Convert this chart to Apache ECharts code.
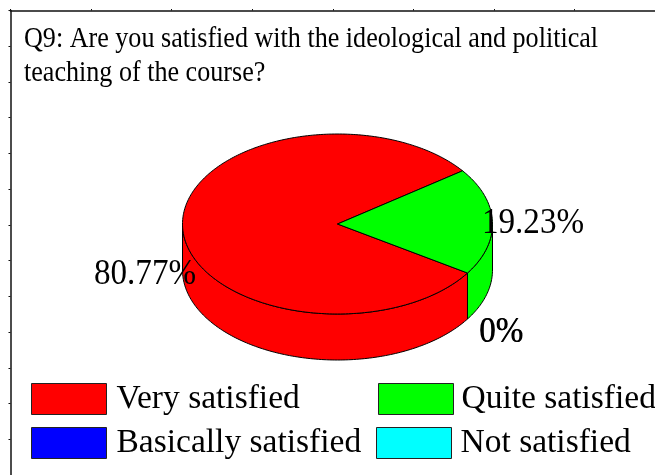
<!DOCTYPE html>
<html><head><meta charset="utf-8">
<style>html,body{margin:0;padding:0;background:#fff}#c{width:655px;height:475px}</style>
<script src="https://cdn.jsdelivr.net/npm/echarts@6/dist/echarts.min.js"></script>
</head><body><div id="c"></div>
<script>
const titleText = 'Q9: Are you satisfied with the ideological and political\nteaching of the course?';
const categories = ['Very satisfied', 'Quite satisfied', 'Basically satisfied', 'Not satisfied'];
const percentages = [80.77, 19.23, 0, 0];
const colors = ['#ff0000', '#00ff00', '#0000ff', '#00ffff'];

// layout
const FONT = '"Liberation Serif","Times New Roman",serif';
const PIE = {cx: 337.5, cy: 224, rx: 155, ry: 90, depth: 46, startDeg: 33};
const LABEL_AT = [[145, 274.5], [533, 224], [501, 333], [501.6, 333]];
const LEGEND_AT = [[31, 382], [378, 382], [31, 426], [376, 426]];
const LEGEND_GAP = [5, 3, 5, 4];

const total = percentages.reduce((a, b) => a + b, 0);
function pt(deg, dy) {
  const r = deg * Math.PI / 180;
  return [PIE.cx + PIE.rx * Math.cos(r), PIE.cy + PIE.ry * Math.sin(r) + (dy || 0)];
}
function arc(a, b, dy) {
  const out = [], n = Math.max(2, Math.ceil(Math.abs(b - a)));
  for (let i = 0; i <= n; i++) out.push(pt(a + (b - a) * i / n, dy));
  return out;
}
const stroke = {stroke: '#000', lineWidth: 1};
function renderSlice(idx) {
  return function (params, api) {
    const v = api.value(0);
    const before = percentages.slice(0, idx).reduce((a, b) => a + b, 0);
    const a0 = PIE.startDeg + before / total * 360;
    const a1 = a0 + v / total * 360;
    const children = [];
    [[0, 180], [360, 540]].forEach(([lo, hi]) => {
      const s = Math.max(a0, lo), e = Math.min(a1, hi);
      if (e > s) {
        children.push({type: 'polygon', shape: {points: arc(s, e, 0).concat(arc(e, s, PIE.depth))},
          style: Object.assign({fill: colors[idx]}, stroke)});
      }
    });
    if (v > 0) {
      children.push({type: 'polygon', shape: {points: [[PIE.cx, PIE.cy]].concat(arc(a0, a1, 0))},
        style: Object.assign({fill: colors[idx]}, stroke)});
    }
    children.push({type: 'text', x: LABEL_AT[idx][0], y: LABEL_AT[idx][1], scaleX: 0.92, originX: 0, originY: 0,
      style: {text: v + '%', font: '36px ' + FONT, fill: '#000', align: 'center', verticalAlign: 'middle'}});
    return {type: 'group', children};
  };
}

const option = {
  animation: false,
  backgroundColor: '#fff',
  graphic: [{
    type: 'text', left: 24, top: 22, scaleX: 0.9,
    style: {text: titleText, font: '29px ' + FONT, fill: '#000', lineHeight: 34.5}
  }],
  grid: {left: 10.5, top: 10.5, right: -5, bottom: -5},
  xAxis: {type: 'value', position: 'top', min: 0, max: 656, interval: 82, splitLine: {show: false},
    axisLabel: {show: false}, axisLine: {show: true, onZero: false, lineStyle: {color: '#111', width: 1.5}},
    axisTick: {show: true, length: 1.5, lineStyle: {color: '#111'}}},
  yAxis: {type: 'value', inverse: true, min: 0, max: 474.5, interval: 36.5, splitLine: {show: false},
    axisLabel: {show: false}, axisLine: {show: true, onZero: false, lineStyle: {color: '#111', width: 1.5}},
    axisTick: {show: true, length: 2, lineStyle: {color: '#111'}}},
  legend: categories.map((name, i) => ({
    data: [name], left: LEGEND_AT[i][0], top: LEGEND_AT[i][1], padding: 0,
    orient: 'horizontal', itemWidth: 75, itemHeight: 31, icon: 'rect', selectedMode: false,
    itemStyle: {borderColor: '#222', borderWidth: 1},
    textStyle: {fontFamily: FONT, fontSize: 33.5, color: '#000', padding: [0, 0, 0, LEGEND_GAP[i]]}
  })),
  series: categories.map((name, i) => ({
    type: 'custom', name, coordinateSystem: 'none', silent: true, clip: false,
    itemStyle: {color: colors[i]},
    data: [[percentages[i]]],
    encode: {value: 0},
    renderItem: renderSlice(i)
  }))
};
echarts.init(document.getElementById('c')).setOption(option);
</script></body></html>
